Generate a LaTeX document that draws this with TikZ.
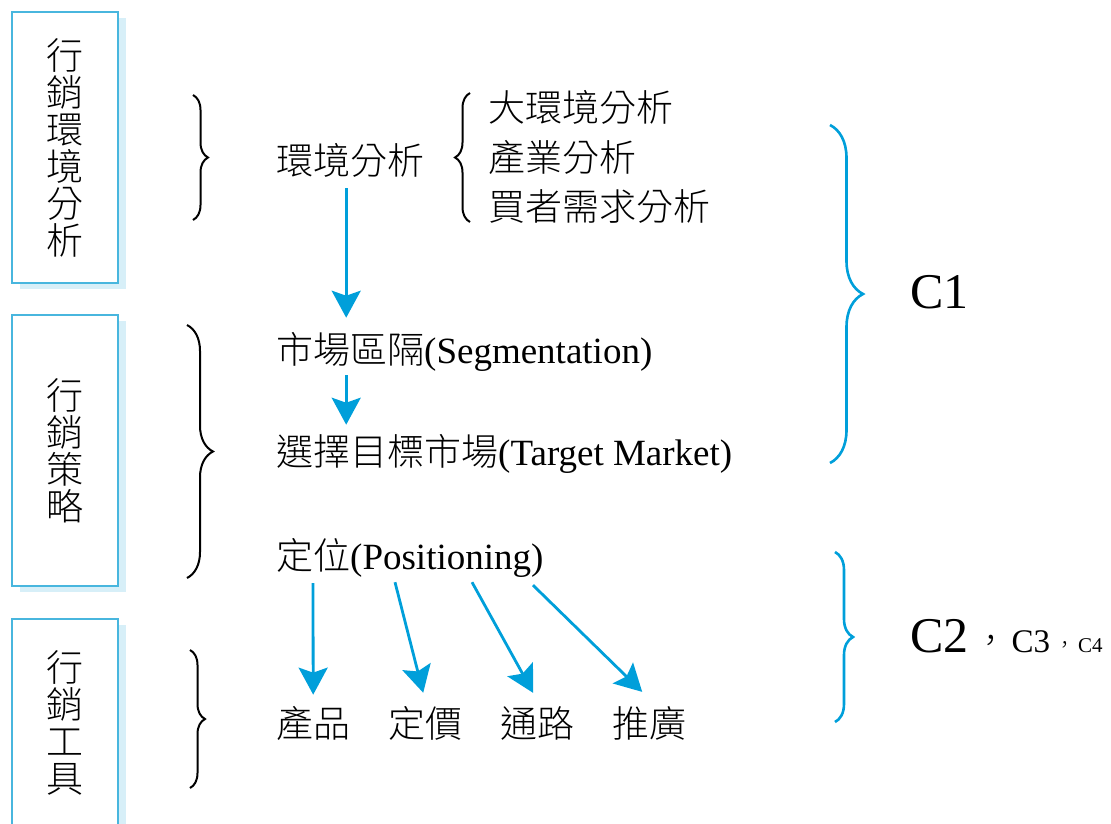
\documentclass[tikz,border=0pt]{standalone}
\usepackage{fontspec}
\setmainfont{Liberation Serif}
\newfontfamily\cjk{Noto Sans CJK TC Light}
\newcommand{\zh}[1]{{\cjk #1}}
\usetikzlibrary{arrows.meta,decorations.pathreplacing,shadows,calc}
\definecolor{arrowblue}{RGB}{0,159,218}
\definecolor{boxblue}{RGB}{72,182,222}

\begin{document}
\begin{tikzpicture}[x=1pt,y=-1pt,
	txt/.style={font=\fontsize{37}{37}\selectfont, inner sep=0pt, anchor=base west},
	sidebox/.style={draw=boxblue, line width=2pt, fill=white, minimum width=106pt, align=center, inner sep=0pt,
		font=\fontsize{37}{37}\selectfont\cjk, drop shadow={shadow xshift=8pt, shadow yshift=-6pt, fill=boxblue!40, opacity=.55}},
	flow/.style={arrowblue, line width=2.8pt, -{Stealth[length=27pt, width=29pt, inset=5pt]}},
	bracket/.style={decorate, decoration={brace, amplitude=#1}, line width=2pt}]
				\useasboundingbox (0,0) rectangle (1111,823);
				
				% left column
				\node[sidebox, minimum height=271pt] (envbox) at (65,147.5) {行\\銷\\環\\境\\分\\析};
				\node[sidebox, minimum height=271pt] (stratbox) at (65,450.5) {行\\銷\\策\\略};
				\node[sidebox, minimum height=207pt] (toolbox) at (65,722.5) {行\\銷\\工\\具};
				
				\draw[bracket=15] (193,95) -- (193,220);
				\draw[bracket=26] (187,325) -- (187,578);
				\draw[bracket=15] (190,650) -- (190,788);
				
				% steps
				\node[txt] (env) at (276,174) {\zh{環境分析}};
				\draw[bracket=15] (470,222) -- (470,93);
				\node[txt] (macro) at (488,121) {\zh{大環境分析}};
				\node[txt] (ind) at (488,171) {\zh{產業分析}};
				\node[txt] (buyer) at (488,220) {\zh{買者需求分析}};
				
				\node[txt] (seg) at (276,363) {\zh{市場區隔}(Segmentation)};
				\node[txt] (tgt) at (276,465) {\zh{選擇目標市場}(Target Market)};
				\node[txt] (pos) at (276,569) {\zh{定位}(Positioning)};
				
				\foreach \n/\x/\t in {prod/276/產品, price/388/定價, chan/500/通路, promo/612/推廣}
				\node[txt] (\n) at (\x,737) {\zh{\t}};
				
				\draw[flow] ($(env.south)+(-4,11)$) -- ($(env.south |- seg.north)+(-4,-14)$);
				\draw[flow] ($(env.south |- seg.south)+(-4,4)$) -- ($(env.south |- tgt.north)+(-4,-9)$);
				
				\foreach \n/\dx/\dy/\ex/\ey in {prod/37/6/0/-11, price/119/5/-2/-13, chan/196/5/-4/-13, promo/257/8/-7/-14}
				\draw[flow] ($(pos.south west)+(\dx,\dy)$) -- ($(\n.north)+(\ex,\ey)$);
				
				% right column
				\draw[bracket=33, arrowblue, line width=2.6pt] (830,125) -- (830,463);
				\draw[bracket=18, arrowblue, line width=2.6pt] (835,552) -- (835,722);
				\node[txt, font=\fontsize{50}{50}\selectfont] (cone) at (910,308) {C1};
				\node[txt, font=\fontsize{50}{50}\selectfont] (ctwo) at (910,652)
					{C2\hspace{6pt}{\fontsize{33}{33}\selectfont\zh{，}\hspace{4pt}C3\hspace{4pt}{\fontsize{21}{21}\selectfont\zh{，}\hspace{3pt}C4}}};
			\end{tikzpicture}
\end{document}
